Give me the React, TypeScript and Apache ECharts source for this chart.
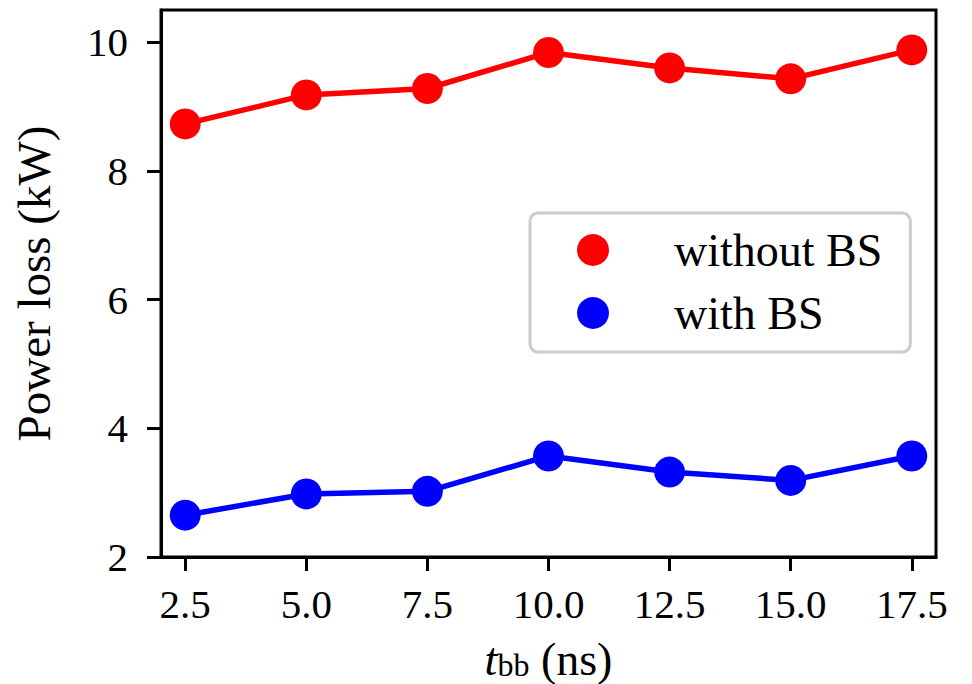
import React, { useEffect, useRef } from "react";
import * as echarts from "echarts";

const xValues = [2.5, 5.0, 7.5, 10.0, 12.5, 15.0, 17.5];
const withoutBS = [8.73, 9.18, 9.28, 9.84, 9.60, 9.43, 9.88];
const withBS = [2.65, 2.98, 3.02, 3.57, 3.32, 3.19, 3.57];
const xTicks = [2.5, 5.0, 7.5, 10.0, 12.5, 15.0, 17.5];
const yTicks = [2, 4, 6, 8, 10];
const seriesNames = ["without BS", "with BS"];

const FONT = "'Liberation Serif', 'Times New Roman', serif";

export default function App() {
  const ref = useRef<HTMLDivElement>(null);
  useEffect(() => {
    if (!ref.current) return;
    const chart = echarts.init(ref.current, null, { renderer: "svg" });
    const pair = (ys: number[]) => xValues.map((x, i) => [x, ys[i]]);
    chart.setOption({
      animation: false,
      backgroundColor: "#fff",
      textStyle: { fontFamily: FONT, color: "#000" },
      grid: {
        left: 161,
        right: 36,
        top: 10,
        bottom: 127,
        containLabel: false,
        outerBoundsMode: "none",
        show: true,
        borderColor: "#000",
        borderWidth: 3,
        backgroundColor: "transparent",
      },
      xAxis: {
        type: "value",
        min: 2,
        max: 18,
        name: "{t|t}{sub|bb}{n| (ns)}",
        nameLocation: "middle",
        nameGap: 80,
        nameTextStyle: {
          rich: {
            t: { fontFamily: FONT, fontStyle: "italic", fontSize: 46, lineHeight: 44, color: "#000", verticalAlign: "middle" },
            sub: { fontFamily: FONT, fontSize: 32, lineHeight: 20, color: "#000", verticalAlign: "bottom" },
            n: { fontFamily: FONT, fontSize: 46, lineHeight: 44, color: "#000", verticalAlign: "middle" },
          },
        },
        axisLine: { show: true, lineStyle: { color: "#000", width: 3 } },
        axisTick: { show: true, inside: false, length: 14, lineStyle: { color: "#000", width: 3 }, customValues: xTicks },
        axisLabel: {
          customValues: xTicks,
          formatter: (v: number) => v.toFixed(1),
          fontFamily: FONT,
          fontSize: 41,
          color: "#000",
          margin: 26,
        },
        splitLine: { show: false },
      },
      yAxis: {
        type: "value",
        min: 2,
        max: 10.5,
        name: "Power loss (kW)",
        nameLocation: "middle",
        nameGap: 104,
        nameTextStyle: { fontFamily: FONT, fontSize: 47, color: "#000" },
        axisLine: { show: true, lineStyle: { color: "#000", width: 3 } },
        axisTick: { show: true, inside: false, length: 14, lineStyle: { color: "#000", width: 3 }, customValues: yTicks },
        axisLabel: {
          customValues: yTicks,
          fontFamily: FONT,
          fontSize: 41,
          color: "#000",
          margin: 33,
        },
        splitLine: { show: false },
      },
      legend: {
        left: 530,
        top: 213,
        orient: "vertical",
        icon: "circle",
        itemWidth: 32,
        itemHeight: 32,
        itemGap: 17,
        padding: [14, 28, 16, 47],
        borderColor: "#cccccc",
        borderWidth: 3,
        borderRadius: 8,
        backgroundColor: "rgba(255,255,255,0.8)",
        textStyle: { fontFamily: FONT, fontSize: 46, color: "#000", padding: [0, 0, 0, 60] },
        data: seriesNames,
      },
      series: [
        {
          name: seriesNames[0],
          type: "line",
          data: pair(withoutBS),
          color: "#ff0000",
          symbol: "circle",
          symbolSize: 31,
          lineStyle: { width: 5.5, color: "#ff0000" },
          itemStyle: { color: "#ff0000" },
        },
        {
          name: seriesNames[1],
          type: "line",
          data: pair(withBS),
          color: "#0000ff",
          symbol: "circle",
          symbolSize: 31,
          lineStyle: { width: 5.5, color: "#0000ff" },
          itemStyle: { color: "#0000ff" },
        },
      ],
    });
    return () => chart.dispose();
  }, []);
  return <div ref={ref} style={{ width: 972, height: 684, position: "absolute", left: 0, top: 0 }} />;
}
